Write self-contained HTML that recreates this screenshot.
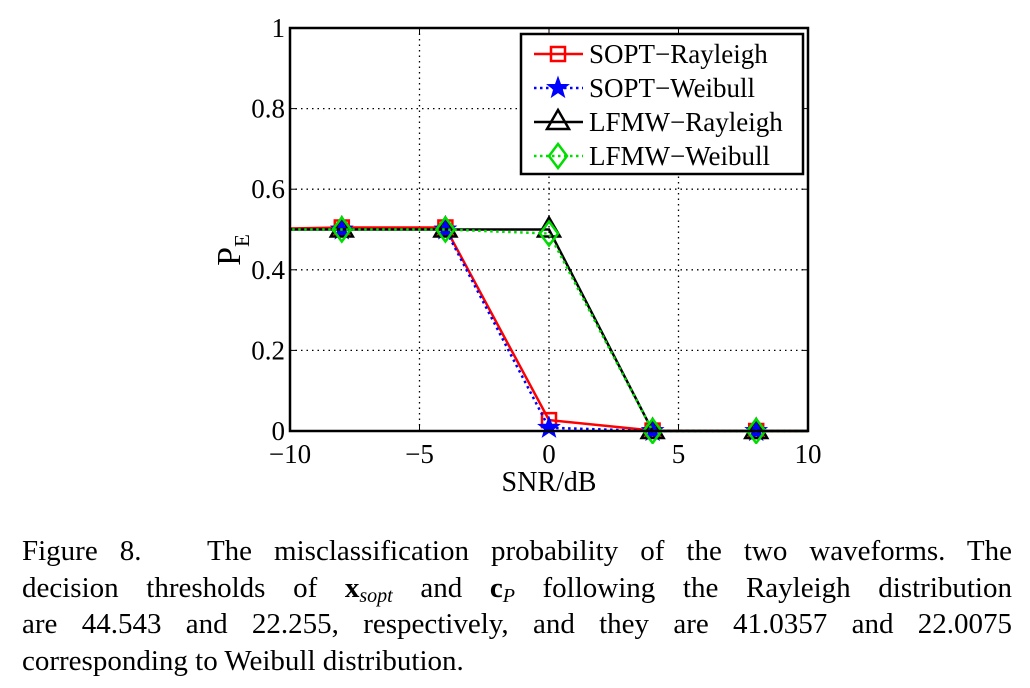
<!DOCTYPE html>
<html><head><meta charset="utf-8"><style>
body{margin:0;background:#fff;width:1030px;height:688px;overflow:hidden;font-family:"Liberation Serif",serif}
.cap{position:absolute;left:22px;top:533px;width:990px;font-size:29px;line-height:36.5px;color:#000}
.cap div{text-align:justify;text-align-last:justify;white-space:nowrap}
.cap div.l{text-align-last:left}
.cap sub{font-size:20px;font-style:italic;vertical-align:-5px;line-height:0}
</style></head><body>
<svg width="1030" height="520" style="position:absolute;left:0;top:0" font-family="Liberation Serif, serif">
<g id="grid"></g>
<g id="ticks"></g>
<g id="series"></g>
<rect x="290" y="28" width="518" height="403" fill="none" stroke="#000" stroke-width="2.5"/>
<text x="549" y="491" font-size="28" text-anchor="middle">SNR/dB</text>
<text transform="translate(240,250) rotate(-90)" font-size="34" text-anchor="middle">P<tspan font-size="21" dy="9">E</tspan></text>
<g id="legend"></g>
</svg>
<div class="cap">
<div>Figure 8. &nbsp; The misclassification probability of the two waveforms. The</div>
<div>decision thresholds of <b>x</b><sub>sopt</sub> and <b>c</b><sub>P</sub> following the Rayleigh distribution</div>
<div>are 44.543 and 22.255, respectively, and they are 41.0357 and 22.0075</div>
<div class="l">corresponding to Weibull distribution.</div>
</div>
<script>
const xVals=[-12,-8,-4,0,4,8,12];
const soptRay=[0.5,0.505,0.505,0.027,0.001,0.0,0.0];
const soptWei=[0.5,0.5,0.5,0.008,0.0,0.0,0.0];
const lfmwRay=[0.5,0.5,0.5,0.5,0.0,0.0,0.0];
const lfmwWei=[0.5,0.5,0.5,0.49,0.0,0.0,0.0];
const xTicks=[-10,-5,0,5,10];
const xTickLabels=["\u221210","\u22125","0","5","10"];
const yTicks=[0,0.2,0.4,0.6,0.8,1];
const yTickLabels=["0","0.2","0.4","0.6","0.8","1"];
const seriesNames=["SOPT\u2212Rayleigh","SOPT\u2212Weibull","LFMW\u2212Rayleigh","LFMW\u2212Weibull"];
const NS="http://www.w3.org/2000/svg";
const X=v=>290+(v+10)/20*518, Y=v=>431-v*403;
function mk(t,a,p){const e=document.createElementNS(NS,t);for(const k in a)e.setAttribute(k,a[k]);p.appendChild(e);return e;}
const grid=document.getElementById('grid'),ticks=document.getElementById('ticks');
xTicks.forEach((v,i)=>{
 if(i>0&&i<xTicks.length-1){const g=mk('line',{x1:X(v),x2:X(v),y1:28,y2:431,stroke:'#000','stroke-dasharray':'1.5 4','stroke-width':1.3},grid);}
 const t=mk('text',{x:X(v),y:463,'font-size':27,'text-anchor':'middle'},ticks);t.textContent=xTickLabels[i];
 
 mk('line',{x1:X(v),x2:X(v),y1:431,y2:425,stroke:'#000'},ticks);mk('line',{x1:X(v),x2:X(v),y1:28,y2:34,stroke:'#000'},ticks);
});
yTicks.forEach((v,i)=>{
 if(i>0&&i<yTicks.length-1){const g=mk('line',{x1:290,x2:808,y1:Y(v),y2:Y(v),stroke:'#000','stroke-dasharray':'1.5 4','stroke-width':1.3},grid);}
 const t=mk('text',{x:285,y:Y(v)+9,'font-size':27,'text-anchor':'end'},ticks);t.textContent=yTickLabels[i];
 
 mk('line',{x1:290,x2:296,y1:Y(v),y2:Y(v),stroke:'#000'},ticks);mk('line',{x1:808,x2:802,y1:Y(v),y2:Y(v),stroke:'#000'},ticks);
});
function marker(type,cx,cy,col,p){
 if(type==='sq')return mk('rect',{x:cx-7,y:cy-7,width:14,height:14,fill:'none',stroke:col,'stroke-width':2.5},p);
 if(type==='tri')return mk('polygon',{points:`${cx},${cy-12} ${cx-11},${cy+7} ${cx+11},${cy+7}`,fill:'none',stroke:col,'stroke-width':2.5},p);
 if(type==='dia')return mk('polygon',{points:`${cx},${cy-12} ${cx+9},${cy} ${cx},${cy+12} ${cx-9},${cy}`,fill:'none',stroke:col,'stroke-width':2.5},p);
 let pts=[];for(let k=0;k<10;k++){const r=k%2?4.5:11,a=-Math.PI/2+k*Math.PI/5;pts.push((cx+r*Math.cos(a)).toFixed(1)+','+(cy+r*Math.sin(a)).toFixed(1));}
 return mk('polygon',{points:pts.join(' '),fill:col,stroke:col,'stroke-width':1},p);
}
const sg=document.getElementById('series');
mk('clipPath',{id:'cp'},sg).appendChild(document.createElementNS(NS,'rect'));
const cr=sg.querySelector('#cp rect');cr.setAttribute('x',290);cr.setAttribute('y',16);cr.setAttribute('width',518);cr.setAttribute('height',428);
const defs=[[soptRay,'#f00','sq',''],[soptWei,'#00f','star','2.5 3.5'],[lfmwRay,'#000','tri',''],[lfmwWei,'#0d0','dia','2.5 3.5']];
defs.forEach((d,si)=>{
 const g=mk('g',{'clip-path':'url(#cp)'},sg);
 
 const pl=mk('polyline',{points:xVals.map((x,i)=>X(x)+','+Y(d[0][i])).join(' '),fill:'none',stroke:d[1],'stroke-width':2.5,'stroke-dasharray':d[3]},g);
 
 xVals.forEach((x,i)=>{if(x<-10||x>10)return;const m=marker(d[2],X(x),Y(d[0][i]),d[1],g);});
});
const lg=document.getElementById('legend');
const lb=mk('rect',{x:521,y:34,width:282,height:140,fill:'#fff',stroke:'#000','stroke-width':2.5},lg);

defs.forEach((d,i)=>{
 const y=54+i*34;
 const e=mk('g',{},lg);
 mk('line',{x1:534,x2:583,y1:y,y2:y,stroke:d[1],'stroke-width':2.5,'stroke-dasharray':d[3]},e);
 marker(d[2],558,y,d[1],e);
 const t=mk('text',{x:589,y:y+9,'font-size':27},e);t.textContent=seriesNames[i];
});
</script>
</body></html>
